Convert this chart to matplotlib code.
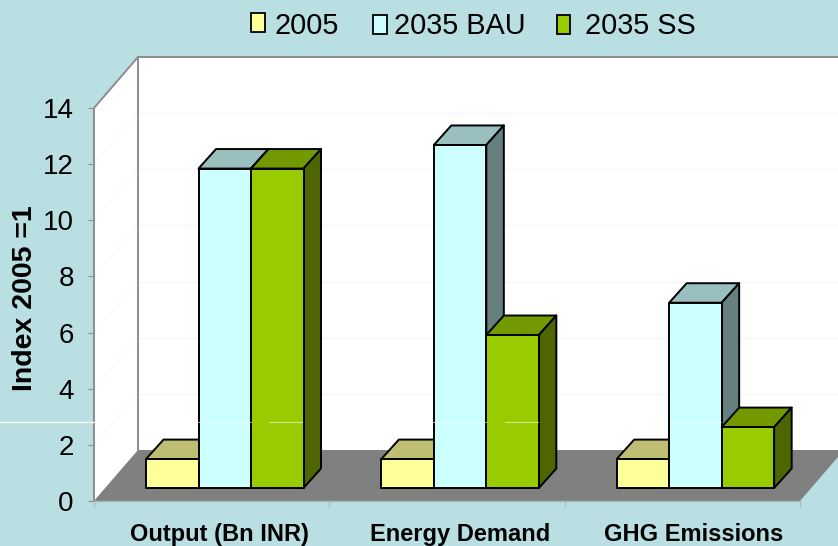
import matplotlib
matplotlib.use("Agg")
import matplotlib.pyplot as plt
from matplotlib.patches import Polygon, Rectangle

plt.rcParams["font.family"] = ["Liberation Sans", "DejaVu Sans"]

# Data
categories = ["Output (Bn INR)", "Energy Demand", "GHG Emissions"]
series_names = ["2005", "2035 BAU", "2035 SS"]
values_2005 = [1.03, 1.03, 1.03]
values_bau = [11.38, 12.22, 6.6]
values_ss = [11.38, 5.45, 2.17]
y_ticks = [0, 2, 4, 6, 8, 10, 12, 14]

# Colours: front, top, side
front_colors = ["#FFFF99", "#CCFFFF", "#99CC00"]
top_colors = ["#BFBF73", "#99BFBF", "#739900"]
side_colors = ["#808040", "#668080", "#4D6600"]
bg = "#B9DFE2"

W, H = 838, 546
fig = plt.figure(figsize=(W / 100, H / 100), dpi=100, facecolor=bg)
ax = fig.add_axes([94 / W, 1 - 501 / H, 706 / W, 393 / H])
ax.set_xlim(0, 3)
ax.set_ylim(0, 14)
ax.patch.set_visible(False)
for s in ax.spines.values():
    s.set_visible(False)

# pixels to data units
px_x = 3 / 706
px_y = 14 / 393

# Depth of the 3D box and of the bars
wall_dx, wall_dy = 44 * px_x, 51 * px_y
bar_dx, bar_dy = 17.5 * px_x, 19.5 * px_y
base = 13 * px_y
bar_w = 52.5 * px_x
bar_start = 52 * px_x


def poly(points, color, edge="none", lw=0, z=1):
    ax.add_patch(Polygon(points, closed=True, facecolor=color, edgecolor=edge,
                         linewidth=lw, zorder=z, clip_on=False, joinstyle="round"))


# Walls and floor
gray = "#8C8C8C"
poly([(0, 0), (wall_dx, wall_dy), (wall_dx, 14 + wall_dy), (0, 14)], "white", z=1)
poly([(wall_dx, wall_dy), (3 + wall_dx, wall_dy), (3 + wall_dx, 14 + wall_dy), (wall_dx, 14 + wall_dy)], "white", z=1)
poly([(0, 0), (3, 0), (3 + wall_dx, wall_dy), (wall_dx, wall_dy)], "#808080", z=2)

# Gridlines
for t in y_ticks[1:-1]:
    ax.plot([wall_dx, 3 + wall_dx], [t + wall_dy, t + wall_dy], color="#F5F5FC", lw=1, zorder=1.5, clip_on=False)
    ax.plot([0, wall_dx], [t, t + wall_dy], color="#F9F9FD", lw=0.8, zorder=1.5, clip_on=False)

# Wall edges
ax.plot([0, 0, wall_dx, 3 + wall_dx], [0, 14, 14 + wall_dy, 14 + wall_dy], color=gray, lw=1.4, zorder=3, clip_on=False)
ax.plot([wall_dx, wall_dx], [wall_dy, 14 + wall_dy], color=gray, lw=1.4, zorder=3, clip_on=False)
ax.plot([0, 3], [0, 0], color="#A6B8BA", lw=1, zorder=3, clip_on=False)

# Bars, left to right so the later fronts cover earlier sides
series_values = [values_2005, values_bau, values_ss]
z = 4
for g in range(len(categories)):
    for i, vals in enumerate(series_values):
        x0 = g + bar_start + i * bar_w
        x1 = x0 + bar_w
        y0 = base
        y1 = base + vals[g]
        poly([(x0, y1), (x1, y1), (x1 + bar_dx, y1 + bar_dy), (x0 + bar_dx, y1 + bar_dy)],
             top_colors[i], "black", 1.4, z)
        poly([(x1, y0), (x1 + bar_dx, y0 + bar_dy), (x1 + bar_dx, y1 + bar_dy), (x1, y1)],
             side_colors[i], "black", 1.4, z)
        poly([(x0, y0), (x1, y0), (x1, y1), (x0, y1)], front_colors[i], "black", 1.4, z + 0.5)
        z += 1

# Ticks
ax.set_yticks(y_ticks)
ax.set_xticks([0, 1, 2, 3])
ax.set_xticklabels([])
ax.tick_params(axis="y", labelsize=20, color=gray, length=4.5, width=0.8, pad=10)
ax.tick_params(axis="x", color="#A6B8BA", length=4.5, width=0.8)
ax.set_ylabel("Index 2005 =1", fontsize=20.5, fontweight="bold")
ax.yaxis.set_label_coords(-56 / 706, 203 / 393, transform=ax.transAxes)

label_x = [0.535, 1.555, 2.546]
for x, name in zip(label_x, categories):
    ax.text(x, -33.5 * px_y, name, ha="center", va="center", fontsize=17, fontweight="bold", clip_on=False)

# Legend
legend_boxes = [(251, 13, 14, 19), (373, 15, 14, 19), (557, 15, 13, 19)]
legend_text_x = [274, 394, 585]
for (bx, by, bw, bh), tx, name, color in zip(legend_boxes, legend_text_x, series_names, front_colors):
    fig.patches.append(Rectangle((bx / W, 1 - (by + bh) / H), bw / W, bh / H, transform=fig.transFigure,
                                 facecolor=color, edgecolor="black", linewidth=1.3, figure=fig))
    fig.text(tx / W, 1 - 26 / H, name, ha="left", va="center", fontsize=20.8)

# Thin white seam running across the picture
fig.add_artist(plt.Line2D([0, 94 / W], [1 - 421.5 / H] * 2, color="white", lw=0.9))
for x0, x1 in [(198, 251), (269, 302), (433, 486), (505, 538), (670, 721)]:
    fig.add_artist(plt.Line2D([x0 / W, x1 / W], [1 - 421.5 / H] * 2, color="white", lw=0.7, alpha=0.6))

fig.savefig("out.png", dpi=100, facecolor=bg)
